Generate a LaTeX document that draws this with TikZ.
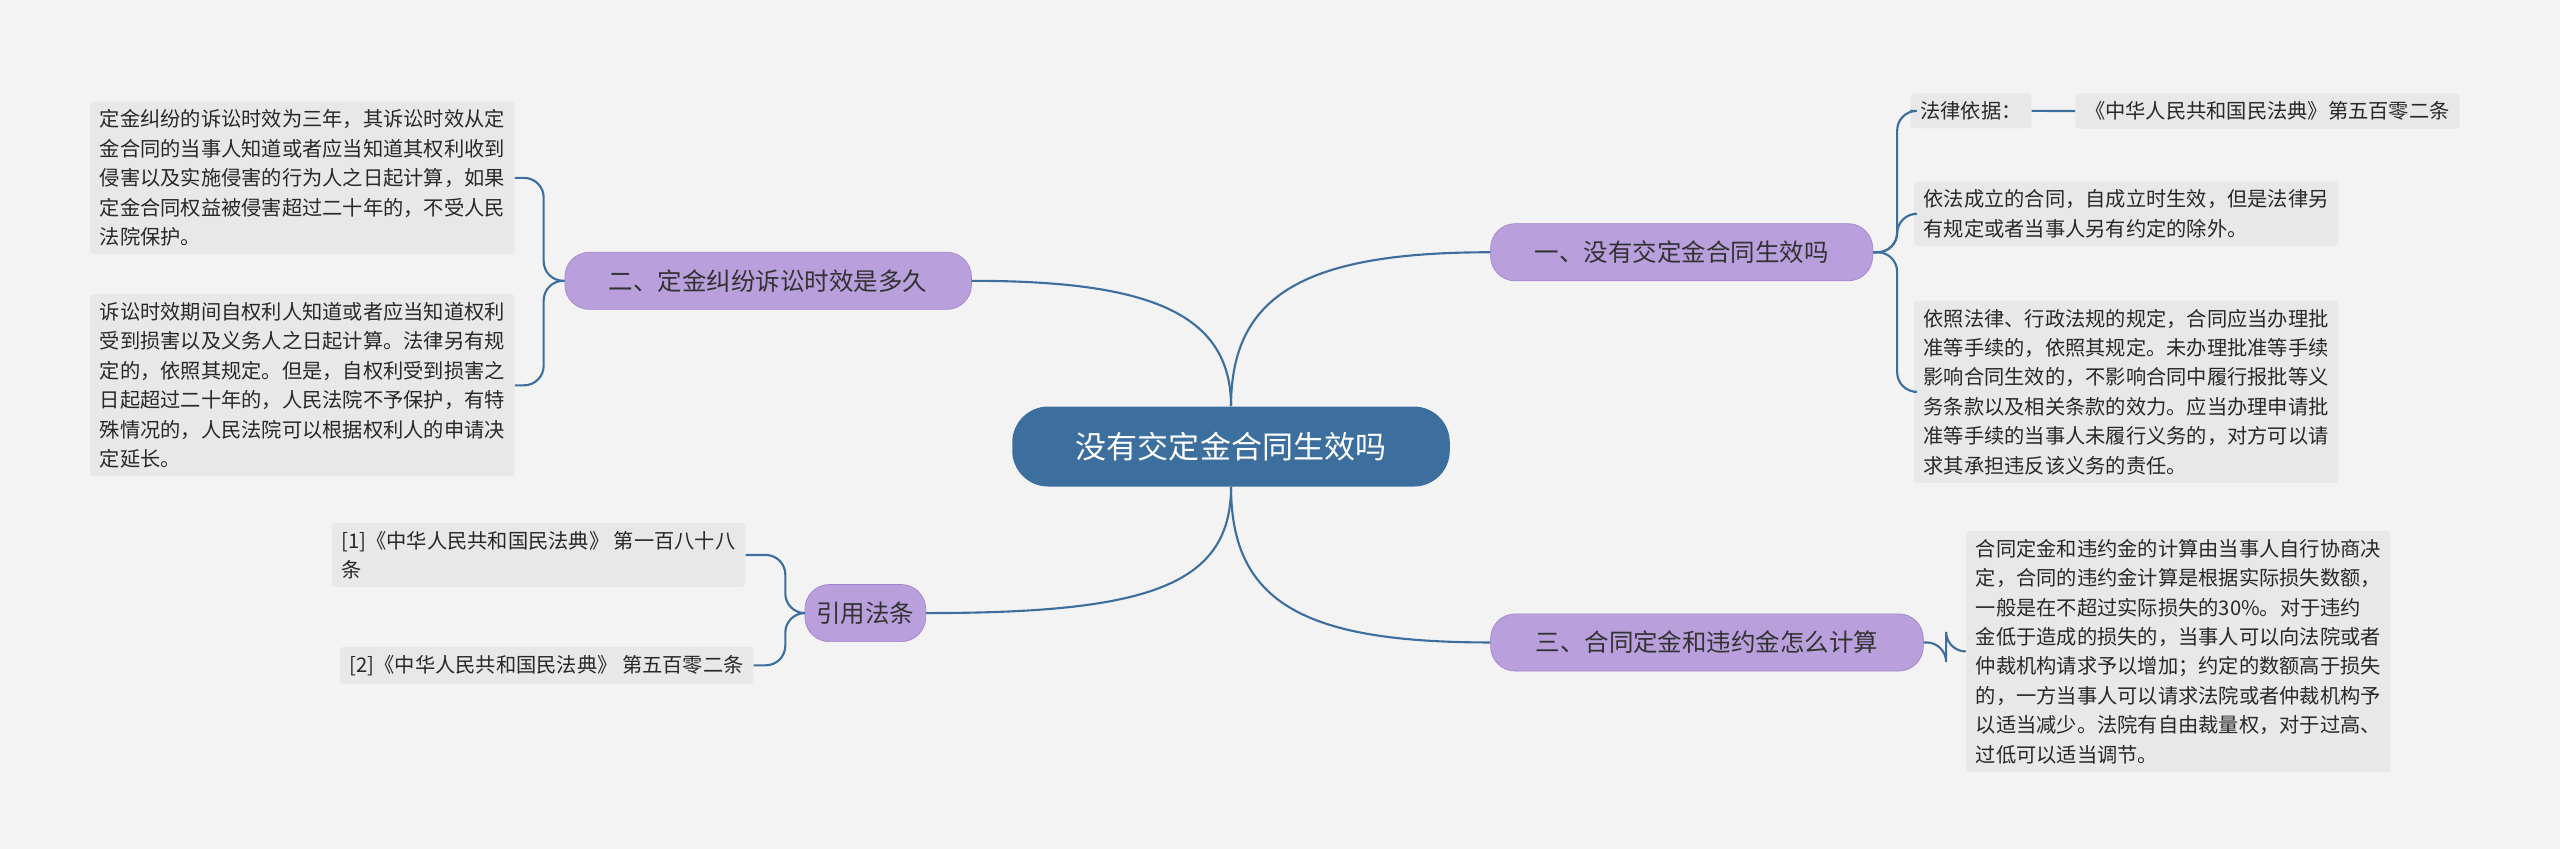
\documentclass[tikz,border=0pt]{standalone}
\usepackage{fontspec}
\setmainfont{Noto Sans CJK SC}
\begin{document}
\begin{tikzpicture}[x=1pt,y=-1pt,
  center/.style={draw=none,fill={rgb,255:red,61;green,111;blue,158},rounded corners=22pt,text=white,font=\fontsize{19}{22}\selectfont,minimum width=268pt,minimum height=49pt,inner sep=0pt},
  branch/.style={fill={rgb,255:red,185;green,160;blue,220},draw={rgb,255:red,160;green,130;blue,205},rounded corners=15pt,font=\fontsize{15}{18}\selectfont,text={rgb,255:red,50;green,50;blue,50},minimum height=35pt,inner sep=0pt},
  leaf/.style={fill={rgb,255:red,232;green,232;blue,232},rounded corners=2pt,font=\fontsize{12.4}{18}\selectfont,text={rgb,255:red,40;green,40;blue,40},align=left,inner xsep=6pt,inner ysep=5pt,anchor=north west},
  conn/.style={draw={rgb,255:red,61;green,111;blue,158},line width=1.3pt}]
\useasboundingbox[fill={rgb,255:red,243;green,243;blue,243}] (0,0) rectangle (1568,520);
\node[center] (c) at (754,273.5) {没有交定金合同生效吗};
\node[branch,minimum width=234pt] (b1) at (1030,154.5) {一、没有交定金合同生效吗};
\node[branch,minimum width=249pt] (b2) at (470.5,172) {二、定金纠纷诉讼时效是多久};
\node[branch,minimum width=265pt] (b3) at (1045.5,393.5) {三、合同定金和违约金怎么计算};
\node[branch,minimum width=74pt] (b4) at (530,375.5) {引用法条};

\node[leaf] (l1) at (1170,57) {法律依据：};
\node[leaf] (l1b) at (1271,57) {《中华人民共和国民法典》第五百零二条};
\node[leaf] (l2) at (1172,111) {依法成立的合同，自成立时生效，但是法律另\\有规定或者当事人另有约定的除外。};
\node[leaf] (l3) at (1172,184) {依照法律、行政法规的规定，合同应当办理批\\准等手续的，依照其规定。未办理批准等手续\\影响合同生效的，不影响合同中履行报批等义\\务条款以及相关条款的效力。应当办理申请批\\准等手续的当事人未履行义务的，对方可以请\\求其承担违反该义务的责任。};
\node[leaf] (l4) at (1204,325) {合同定金和违约金的计算由当事人自行协商决\\定，合同的违约金计算是根据实际损失数额，\\一般是在不超过实际损失的30\%。对于违约\\金低于造成的损失的，当事人可以向法院或者\\仲裁机构请求予以增加；约定的数额高于损失\\的，一方当事人可以请求法院或者仲裁机构予\\以适当减少。法院有自由裁量权，对于过高、\\过低可以适当调节。};
\node[leaf] (l5) at (55,62) {定金纠纷的诉讼时效为三年，其诉讼时效从定\\金合同的当事人知道或者应当知道其权利收到\\侵害以及实施侵害的行为人之日起计算，如果\\定金合同权益被侵害超过二十年的，不受人民\\法院保护。};
\node[leaf] (l6) at (55,180) {诉讼时效期间自权利人知道或者应当知道权利\\受到损害以及义务人之日起计算。法律另有规\\定的，依照其规定。但是，自权利受到损害之\\日起超过二十年的，人民法院不予保护，有特\\殊情况的，人民法院可以根据权利人的申请决\\定延长。};
\node[leaf] (l7) at (203,320) {[1]《中华人民共和国民法典》 第一百八十八\\条};
\node[leaf] (l8) at (208,396) {[2]《中华人民共和国民法典》 第五百零二条};

\draw[conn] (c.north) .. controls (754,180) and (800,154.5) .. (b1.west);
\draw[conn] (c.north) .. controls (754,190) and (700,172) .. (b2.east);
\draw[conn] (c.south) .. controls (754,370) and (800,393.5) .. (b3.west);
\draw[conn] (c.south) .. controls (754,360) and (700,375.5) .. (b4.east);

\begin{scope}[conn,rounded corners=12pt]
\draw (b1.east) -- (1162,154.5) |- (l1.west);
\draw (b1.east) -- (1162,154.5) |- (l2.west);
\draw (b1.east) -- (1162,154.5) |- (l3.west);
\draw (l1.east) -- (l1b.west);
\draw (b3.east) -- (1192,393.5) |- (l4.west);
\draw (b2.west) -- (333,172) |- (l5.east);
\draw (b2.west) -- (333,172) |- (l6.east);
\draw (b4.west) -- (481,375.5) |- (l7.east);
\draw (b4.west) -- (481,375.5) |- (l8.east);
\end{scope}
\end{tikzpicture}
\end{document}
